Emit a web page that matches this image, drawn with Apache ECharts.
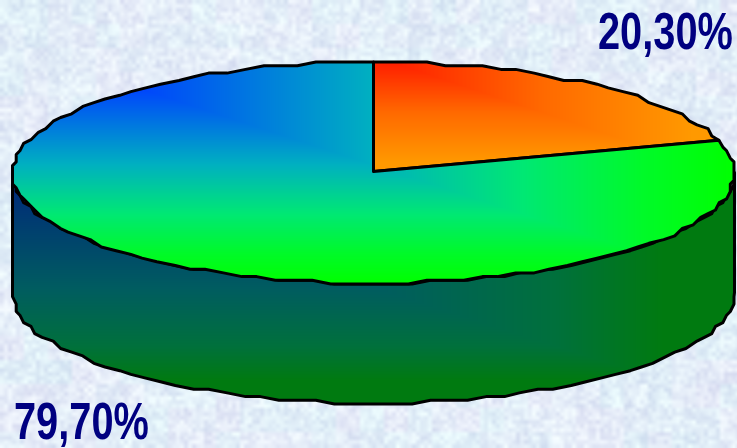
<!DOCTYPE html>
<html>
<head>
<meta charset="utf-8">
<style>html,body{margin:0;padding:0;background:#e4eef9}#chart{width:737px;height:448px}</style>
<script src="https://cdn.jsdelivr.net/npm/echarts@6/dist/echarts.min.js"></script>
</head>
<body>
<div id="chart"></div>
<script>
// Share of each slice, in percent, clockwise from twelve o'clock.
const sliceValues = [20.30, 79.70];

const W = 737, H = 448;
const disc = { cx: 373.5, cy: 172.5, rx: 361, ry: 110.5, depth: 120, facet: 3.7 };
const labelBoxes = [
  { x: 598, y: 61, scaleX: 0.765 },
  { x: 14, y: 451, scaleX: 0.765 }
];

function lerpStops(stops, t) {
  t = Math.max(0, Math.min(1, t));
  for (let i = 1; i < stops.length; i++) {
    if (t <= stops[i][0]) {
      const a = stops[i - 1], b = stops[i], f = (t - a[0]) / (b[0] - a[0]);
      return [a[1] + (b[1] - a[1]) * f, a[2] + (b[2] - a[2]) * f, a[3] + (b[3] - a[3]) * f];
    }
  }
  const l = stops[stops.length - 1];
  return [l[1], l[2], l[3]];
}

// Rectangular gradient painted per pixel, used as a pattern fill.
function boxGradient(x0, y0, w, h, stops) {
  const c = document.createElement('canvas');
  c.width = W; c.height = H;
  const ctx = c.getContext('2d');
  const img = ctx.createImageData(W, H);
  for (let y = 0; y < H; y++) {
    for (let x = 0; x < W; x++) {
      const t = Math.max(Math.abs(x - x0) / w, Math.abs(y - y0) / h);
      const col = lerpStops(stops, t);
      const i = (y * W + x) * 4;
      img.data[i] = col[0]; img.data[i + 1] = col[1]; img.data[i + 2] = col[2]; img.data[i + 3] = 255;
    }
  }
  ctx.putImageData(img, 0, 0);
  return { image: c, repeat: 'no-repeat' };
}

// Mottled paper backdrop from a small hashed grid, scaled up softly.
function paperTexture() {
  const cell = 4, gw = Math.ceil(W / cell), gh = Math.ceil(H / cell);
  const hash = (x, y, s) => {
    const v = Math.sin(x * 127.1 + y * 311.7 + s * 74.7) * 43758.5453;
    return v - Math.floor(v);
  };
  const small = document.createElement('canvas');
  small.width = gw; small.height = gh;
  const sctx = small.getContext('2d');
  const img = sctx.createImageData(gw, gh);
  for (let y = 0; y < gh; y++) {
    for (let x = 0; x < gw; x++) {
      const fine = hash(x, y, 1) - 0.5;
      const mid = hash(Math.floor(x / 3), Math.floor(y / 3), 2) - 0.5;
      const tint = hash(Math.floor(x / 6), Math.floor(y / 6), 3) - 0.5;
      const d = fine * 24 + mid * 12;
      const i = (y * gw + x) * 4;
      img.data[i] = 227 + d + tint * 6;
      img.data[i + 1] = 237 + d - tint * 5;
      img.data[i + 2] = 248 + d * 0.5;
      img.data[i + 3] = 255;
    }
  }
  sctx.putImageData(img, 0, 0);
  const c = document.createElement('canvas');
  c.width = W; c.height = H;
  const ctx = c.getContext('2d');
  ctx.imageSmoothingEnabled = true;
  ctx.drawImage(small, 0, 0, gw * cell, gh * cell);
  return { image: c, repeat: 'no-repeat' };
}

const topFills = [
  boxGradient(392, 62, 300, 100, [[0, 255, 30, 0], [0.5, 255, 105, 0], [1, 255, 153, 0]]),
  boxGradient(130, 85, 605, 198, [[0, 0, 64, 255], [0.4, 0, 176, 192], [0.65, 0, 232, 115], [0.85, 0, 250, 40], [1, 0, 255, 0]])
];
const wallFill = boxGradient(13, 172, 722, 231, [[0, 0, 36, 125], [0.5, 0, 92, 96], [0.75, 0, 112, 60], [0.9, 0, 122, 16], [1, 0, 122, 16]]);

// Faceted rim: points on the ellipse are snapped to a coarse grid.
function rimPoints(a0, a1, dy) {
  const pts = [];
  const left = disc.cx - disc.rx, top = disc.cy - disc.ry;
  const steps = Math.max(2, Math.ceil((a1 - a0) / (Math.PI / 60)));
  for (let i = 0; i <= steps; i++) {
    const a = a0 + (a1 - a0) * i / steps;
    let x = disc.cx + disc.rx * Math.sin(a);
    let y = disc.cy - disc.ry * Math.cos(a);
    if (i > 0 && i < steps) {
      x = left + Math.round((x - left) / disc.facet) * disc.facet;
      y = top + Math.round((y - top) / disc.facet) * disc.facet;
    }
    const last = pts[pts.length - 1];
    if (!last || last[0] !== x || last[1] !== y + dy) pts.push([x, y + dy]);
  }
  return pts;
}

const total = sliceValues.reduce((s, v) => s + v, 0);

function renderSlice(params, api) {
  const idx = params.dataIndex;
  const value = api.value(0);
  let before = 0;
  for (let i = 0; i < idx; i++) before += sliceValues[i];
  const a0 = before / total * Math.PI * 2;
  const a1 = a0 + value / total * Math.PI * 2;
  const children = [];
  const edge = { stroke: '#000', lineWidth: 3, lineJoin: 'round' };

  // The wall shows only along the front half of the rim.
  const w0 = Math.max(a0, Math.PI / 2), w1 = Math.min(a1, Math.PI * 1.5);
  if (w1 > w0) {
    const upper = rimPoints(w0, w1, 0);
    const lower = rimPoints(w0, w1, disc.depth).reverse();
    children.push({
      type: 'polygon',
      shape: { points: upper.concat(lower) },
      style: Object.assign({ fill: wallFill }, edge)
    });
  }

  const face = [[disc.cx, disc.cy - 1]].concat(rimPoints(a0, a1, 0));
  children.push({
    type: 'polygon',
    shape: { points: face },
    style: Object.assign({ fill: topFills[idx] }, edge)
  });

  const box = labelBoxes[idx];
  children.push({
    type: 'text',
    x: box.x,
    y: box.y,
    scaleX: box.scaleX,
    style: {
      text: value.toFixed(2).replace('.', ',') + '%',
      fill: '#000080',
      font: 'bold 52px "Liberation Sans", Arial, sans-serif',
      textAlign: 'left',
      textVerticalAlign: 'bottom'
    }
  });
  return { type: 'group', children };
}

const chart = echarts.init(document.getElementById('chart'), null, { renderer: 'canvas', width: W, height: H });
chart.setOption({
  animation: false,
  backgroundColor: paperTexture(),
  series: [{
    type: 'custom',
    coordinateSystem: 'none',
    silent: true,
    clip: false,
    renderItem: renderSlice,
    data: sliceValues.map(v => [v])
  }]
});
</script>
</body>
</html>
